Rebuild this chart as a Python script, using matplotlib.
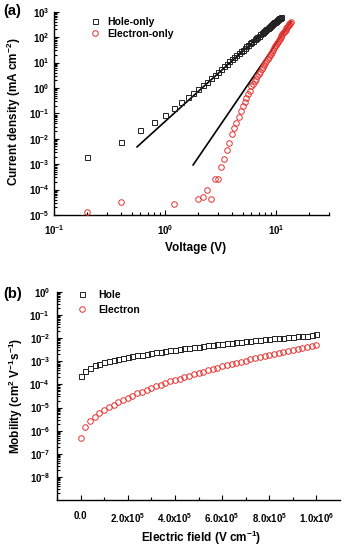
import matplotlib
matplotlib.use("Agg")
import matplotlib.pyplot as plt
from matplotlib.ticker import FixedLocator, NullFormatter, LogLocator

plt.rcParams['font.family'] = ['Liberation Sans', 'DejaVu Sans']
plt.rcParams['font.weight'] = 'bold'
plt.rcParams['mathtext.fontset'] = 'custom'
plt.rcParams['mathtext.rm'] = 'Liberation Sans:bold'
plt.rcParams['mathtext.bf'] = 'Liberation Sans:bold'
plt.rcParams['mathtext.it'] = 'Liberation Sans:bold'

# ---- panel (a): J-V of single carrier devices ----
hole_v = [0.2, 0.4, 0.6, 0.8, 1.0, 1.2, 1.4, 1.6, 1.8, 2.0, 2.2, 2.4, 2.6, 2.8, 3.0,
          3.2, 3.4, 3.6, 3.8, 4.0, 4.2, 4.4, 4.6, 4.8, 5.0, 5.2, 5.4, 5.6, 5.8, 6.0,
          6.2, 6.4, 6.6, 6.8, 7.0, 7.2, 7.4, 7.6, 7.8, 8.0, 8.2, 8.4, 8.6, 8.8, 9.0,
          9.2, 9.4, 9.6, 9.8, 10.0, 10.2, 10.4, 10.6, 10.8, 11.0]
hole_j = [1.9e-3, 7.4e-3, 0.022, 0.045, 0.083, 0.166, 0.28, 0.44, 0.65, 0.92, 1.27, 1.74,
          2.42, 3.24, 4.28, 5.52, 7.0, 8.8, 11.0, 13.4, 16.3, 19.5, 23.5, 27.5, 32.1,
          37.2, 42.9, 49.2, 56.1, 64, 72, 82, 92, 103, 115, 127, 141, 157, 173, 190,
          209, 228, 249, 271, 296, 323, 349, 378, 408, 442, 478, 512, 550, 589, 631]

elec_v = [0.2, 0.4, 1.2, 2.0, 2.2, 2.4, 2.6, 2.8, 3.0, 3.2, 3.4, 3.6, 3.8, 4.0, 4.2,
          4.4, 4.6, 4.8, 5.0, 5.2, 5.4, 5.6, 5.8, 6.0, 6.2, 6.4, 6.6, 6.8, 7.0, 7.2,
          7.4, 7.6, 7.8, 8.0, 8.2, 8.4, 8.6, 8.8, 9.0, 9.2, 9.4, 9.6, 9.8, 10.0, 10.2,
          10.4, 10.6, 10.8, 11.0, 11.2, 11.4, 11.6, 11.8, 12.0, 12.2, 12.4, 12.6, 12.8,
          13.0, 13.2, 13.4, 13.6]
elec_j = [1.3e-5, 3.3e-5, 2.7e-5, 4.3e-5, 5.1e-5, 9.6e-5, 4.3e-5, 2.6e-4, 2.6e-4,
          7.7e-4, 1.6e-3, 3.6e-3, 6.8e-3, 0.0155, 0.027, 0.043, 0.071, 0.12, 0.19,
          0.29, 0.42, 0.58, 0.79, 1.17, 1.48, 1.86, 2.34, 2.95, 3.55, 4.37, 5.37, 6.46,
          7.76, 9.33, 11.2, 13.5, 15.8, 19.1, 22.4, 26.3, 30.9, 36.3, 42.7, 49, 57.5,
          66, 76, 87, 100, 115, 129, 141, 158, 178, 195, 219, 240, 269, 295, 331, 355, 398]

hole_fit_v = [0.56, 11.0]
hole_fit_j = [4.8e-3, 630]
elec_fit_v = [1.79, 13.6]
elec_fit_j = [9.3e-4, 400]

# ---- panel (b): field dependent mobility ----
field = [0, 2e4, 4e4, 6e4, 8e4, 1e5, 1.2e5, 1.4e5, 1.6e5, 1.8e5, 2e5, 2.2e5, 2.4e5,
         2.6e5, 2.8e5, 3e5, 3.2e5, 3.4e5, 3.6e5, 3.8e5, 4e5, 4.2e5, 4.4e5, 4.6e5,
         4.8e5, 5e5, 5.2e5, 5.4e5, 5.6e5, 5.8e5, 6e5, 6.2e5, 6.4e5, 6.6e5, 6.8e5,
         7e5, 7.2e5, 7.4e5, 7.6e5, 7.8e5, 8e5, 8.2e5, 8.4e5, 8.6e5, 8.8e5, 9e5,
         9.2e5, 9.4e5, 9.6e5, 9.8e5, 1e6]
mu_hole = [2.3e-4, 3.7e-4, 5.3e-4, 6.6e-4, 8.0e-4, 9.0e-4, 1.0e-3, 1.13e-3, 1.26e-3,
           1.38e-3, 1.51e-3, 1.65e-3, 1.80e-3, 1.95e-3, 2.1e-3, 2.28e-3, 2.45e-3,
           2.6e-3, 2.8e-3, 3.0e-3, 3.2e-3, 3.4e-3, 3.6e-3, 3.85e-3, 4.1e-3, 4.3e-3,
           4.6e-3, 4.85e-3, 5.1e-3, 5.4e-3, 5.7e-3, 6.0e-3, 6.3e-3, 6.6e-3, 6.9e-3,
           7.2e-3, 7.7e-3, 8.0e-3, 8.4e-3, 8.8e-3, 9.2e-3, 9.7e-3, 1.0e-2, 1.05e-2,
           1.1e-2, 1.15e-2, 1.2e-2, 1.25e-2, 1.3e-2, 1.37e-2, 1.45e-2]
mu_elec = [4.6e-7, 1.5e-6, 2.6e-6, 4.0e-6, 5.7e-6, 7.9e-6, 1.05e-5, 1.35e-5, 1.74e-5,
           2.2e-5, 2.7e-5, 3.3e-5, 4.1e-5, 4.9e-5, 5.9e-5, 7.1e-5, 8.3e-5, 9.8e-5,
           1.15e-4, 1.35e-4, 1.55e-4, 1.8e-4, 2.1e-4, 2.4e-4, 2.75e-4, 3.2e-4, 3.6e-4,
           4.1e-4, 4.7e-4, 5.2e-4, 6.0e-4, 6.7e-4, 7.6e-4, 8.5e-4, 9.6e-4, 1.07e-3,
           1.2e-3, 1.35e-3, 1.5e-3, 1.66e-3, 1.85e-3, 2.05e-3, 2.3e-3, 2.5e-3, 2.8e-3,
           3.1e-3, 3.4e-3, 3.7e-3, 4.2e-3, 4.6e-3, 5.0e-3]

RED = '#e5332f'

fig = plt.figure(figsize=(3.44, 5.49), dpi=100)


def style(ax):
    ax.spines['top'].set_visible(False)
    ax.spines['right'].set_visible(False)
    for s in ('left', 'bottom'):
        ax.spines[s].set_linewidth(1.0)
    ax.tick_params(which='both', direction='in', width=0.8, labelsize=7)
    ax.tick_params(which='major', length=3.5)
    ax.tick_params(which='minor', length=2)


# (a)
ax1 = fig.add_axes([0.157, 0.6084, 0.7994, 0.3703])
ax1.plot(hole_fit_v, hole_fit_j, color='k', lw=1.2, zorder=2)
ax1.plot(elec_fit_v, elec_fit_j, color='k', lw=1.2, zorder=2)
ax1.plot(hole_v, hole_j, 's', mfc='none', mec='#222222', ms=3.6, mew=0.7,
         label='Hole-only', zorder=3)
ax1.plot(elec_v, elec_j, 'o', mfc='none', mec=RED, ms=4.0, mew=0.7,
         label='Electron-only', zorder=3)
ax1.set_xscale('log')
ax1.set_yscale('log')
ax1.set_xlim(0.1, 30)
ax1.set_ylim(1e-5, 1e3)
style(ax1)
ax1.xaxis.set_major_locator(FixedLocator([0.1, 1, 10]))
ax1.set_xticklabels([r'$10^{-1}$', r'$10^{0}$', r'$10^{1}$'])
ax1.xaxis.set_minor_locator(LogLocator(base=10, subs=range(2, 10)))
ax1.xaxis.set_minor_formatter(NullFormatter())
ydec_a = [-5, -4, -3, -2, -1, 0, 1, 2, 3]
ax1.yaxis.set_major_locator(FixedLocator([10.0 ** d for d in ydec_a]))
ax1.set_yticklabels([r'$10^{%d}$' % d for d in ydec_a])
ax1.yaxis.set_minor_locator(LogLocator(base=10, subs=range(2, 10)))
ax1.yaxis.set_minor_formatter(NullFormatter())
ax1.tick_params(axis='x', pad=6)
ax1.tick_params(axis='y', pad=3)
ax1.legend(loc='upper left', bbox_to_anchor=(0.262, 0.969),
           bbox_transform=fig.transFigure, frameon=False, fontsize=7.5,
           handlelength=1.0, handletextpad=0.6, labelspacing=0.2,
           borderpad=0, borderaxespad=0)

fig.text(0.01, 1 - 11 / 549, '(a)', fontsize=10.5, va='center', ha='left')
fig.text(14 / 344, 1 - 112 / 549, 'Current density (mA cm$^{-2}$)', rotation=90,
         fontsize=8.5, ha='center', va='center')
fig.text(196 / 344, 1 - 248 / 549, 'Voltage (V)', fontsize=8.5,
         ha='center', va='center')

# (b)
ax2 = fig.add_axes([0.1657, 0.0893, 0.8227, 0.3789])
ax2.plot(field, mu_hole, 's', mfc='none', mec='#222222', ms=3.6, mew=0.7, label='Hole')
ax2.plot(field, mu_elec, 'o', mfc='none', mec=RED, ms=4.0, mew=0.7, label='Electron')
ax2.set_yscale('log')
ax2.set_xlim(-1e5, 1.1e6)
ax2.set_ylim(1e-9, 1e0)
style(ax2)
xt = [0, 2e5, 4e5, 6e5, 8e5, 1e6]
ax2.xaxis.set_major_locator(FixedLocator(xt))
ax2.set_xticklabels(['0.0', r'2.0x10$^{5}$', r'4.0x10$^{5}$', r'6.0x10$^{5}$',
                     r'8.0x10$^{5}$', r'1.0x10$^{6}$'])
ax2.xaxis.set_minor_locator(FixedLocator([-1e5, 1e5, 3e5, 5e5, 7e5, 9e5]))
ydec_b = [-8, -7, -6, -5, -4, -3, -2, -1, 0]
ax2.yaxis.set_major_locator(FixedLocator([10.0 ** d for d in ydec_b]))
ax2.set_yticklabels([r'$10^{%d}$' % d for d in ydec_b])
ax2.yaxis.set_minor_locator(LogLocator(base=10, subs=range(2, 10)))
ax2.yaxis.set_minor_formatter(NullFormatter())
ax2.tick_params(axis='x', pad=8)
ax2.tick_params(axis='y', pad=5)
ax2.legend(loc='upper left', bbox_to_anchor=(0.224, 1 - 290 / 549),
           bbox_transform=fig.transFigure, frameon=False, fontsize=7.5,
           handlelength=1.0, handletextpad=1.0, labelspacing=0.45,
           borderpad=0, borderaxespad=0)

fig.text(0.01, 1 - 294 / 549, '(b)', fontsize=10.5, va='center', ha='left')
fig.text(16 / 344, 1 - 396 / 549, 'Mobility (cm$^{2}$ V$^{-1}$s$^{-1}$)', rotation=90,
         fontsize=8.5, ha='center', va='center')
fig.text(201 / 344, 1 - 538 / 549, 'Electric field (V cm$^{-1}$)', fontsize=8.5,
         ha='center', va='center')

fig.savefig('out.png', dpi=100)
